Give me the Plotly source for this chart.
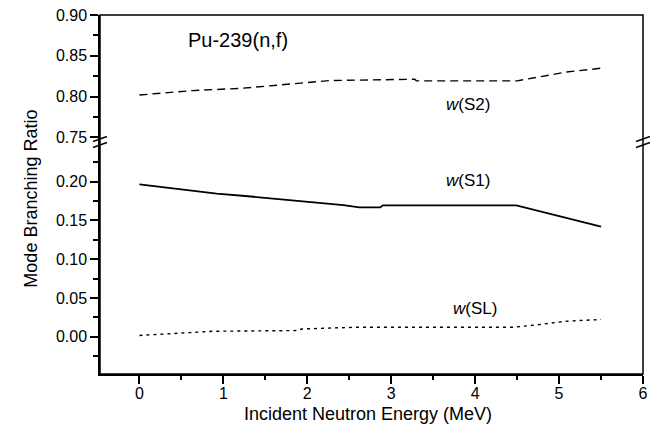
import plotly.graph_objects as go

# ---- data ----
s2_energy = [0.0, 0.63, 1.22, 1.51, 2.27, 3.28, 3.30, 4.50, 4.79, 5.08, 5.50]
s2_ratio = [0.802, 0.8074, 0.8102, 0.8127, 0.8197, 0.8213, 0.8193, 0.8193, 0.8246, 0.8300, 0.8348]

s1_energy = [0.0, 0.92, 1.26, 1.89, 2.43, 2.62, 2.87, 2.90, 4.49, 5.50]
s1_ratio = [0.1965, 0.1844, 0.1814, 0.1754, 0.1697, 0.1667, 0.1667, 0.1693, 0.1693, 0.1420]

sl_energy = [0.0, 0.88, 1.89, 1.93, 2.56, 4.45, 4.79, 5.08, 5.50]
sl_ratio = [0.0017, 0.0071, 0.0080, 0.0100, 0.0122, 0.0122, 0.0160, 0.0200, 0.0223]

x_ticks = [0, 1, 2, 3, 4, 5, 6]
x_minor = [-0.5, 0.5, 1.5, 2.5, 3.5, 4.5, 5.5]
y_low_ticks = [0.00, 0.05, 0.10, 0.15, 0.20]
y_low_minor = [-0.025, 0.025, 0.075, 0.125, 0.175, 0.225]
y_up_ticks = [0.75, 0.80, 0.85, 0.90]
y_up_minor = [0.775, 0.825, 0.875]

FONT = "Liberation Sans, Arial, sans-serif"

fig = go.Figure()
fig.add_trace(go.Scatter(x=s2_energy, y=s2_ratio, mode="lines", yaxis="y2",
                         line=dict(color="black", width=1.4, dash="8px,5px"),
                         showlegend=False))
fig.add_trace(go.Scatter(x=s1_energy, y=s1_ratio, mode="lines", yaxis="y",
                         line=dict(color="black", width=1.8), showlegend=False))
fig.add_trace(go.Scatter(x=sl_energy, y=sl_ratio, mode="lines", yaxis="y",
                         line=dict(color="black", width=1.4, dash="3px,4px"),
                         showlegend=False))

W, H = 652, 441
L, R, T, B = 100, 4, 15, 67
pw, ph = W - L - R, H - T - B
split_px = 142  # pixel row of the axis break
dsplit = (H - B - split_px) / ph

tickfont = dict(family=FONT, size=16, color="black")

fig.update_layout(
    width=W, height=H,
    margin=dict(l=L, r=R, t=T, b=B, pad=0),
    paper_bgcolor="white", plot_bgcolor="white",
    font=dict(family=FONT, color="black"),
    xaxis=dict(range=[-0.47, 6.0], anchor="y", showgrid=False, zeroline=False,
               showline=True, linecolor="black", linewidth=1.5,
               tickmode="array", tickvals=x_ticks, ticks="outside", ticklen=8,
               tickwidth=1.5, tickcolor="black", tickfont=tickfont,
               ticklabeloverflow="allow", ticklabelstandoff=-4,
               minor=dict(tickmode="array", tickvals=x_minor, ticks="outside",
                          ticklen=4, tickwidth=1.5, tickcolor="black")),
    yaxis=dict(domain=[0, dsplit], range=[-0.048, 0.251], anchor="x",
               showgrid=False, zeroline=False, showline=True, linecolor="black",
               linewidth=1.5, tickmode="array", tickvals=y_low_ticks,
               tickformat=".2f", ticks="outside", ticklen=8, tickwidth=1.5,
               tickcolor="black", tickfont=tickfont,
               minor=dict(tickmode="array", tickvals=y_low_minor, ticks="outside",
                          ticklen=5, tickwidth=1.5, tickcolor="black")),
    yaxis2=dict(domain=[dsplit, 1], range=[0.7444, 0.90], anchor="x",
                showgrid=False, zeroline=False, showline=True, linecolor="black",
                linewidth=1.5, tickmode="array", tickvals=y_up_ticks,
                tickformat=".2f", ticks="outside", ticklen=8, tickwidth=1.5,
                tickcolor="black", tickfont=tickfont,
                minor=dict(tickmode="array", tickvals=y_up_minor, ticks="outside",
                           ticklen=5, tickwidth=1.5, tickcolor="black")),
)

# frame (top and right sides)
fig.add_shape(type="rect", xref="paper", yref="paper", x0=0, x1=1, y0=0, y1=1,
              line=dict(color="black", width=1.5), fillcolor="rgba(0,0,0,0)")

# axis-break marks
def px_x(px):
    return (px - L) / pw

def px_y(py):
    return (H - B - py) / ph

for xc in (L, W - R):
    for dy in (-3, 3):
        yc = split_px + dy
        fig.add_shape(type="line", xref="paper", yref="paper",
                      x0=px_x(xc - 7), y0=px_y(yc + 2.5),
                      x1=px_x(xc + 7), y1=px_y(yc - 2.5),
                      line=dict(color="black", width=1.5))

# text labels
fig.add_annotation(x=1.18, y=0.869, xref="x", yref="y2", text="Pu-239(n,f)",
                   showarrow=False, font=dict(family=FONT, size=20, color="black"))
fig.add_annotation(x=3.92, y=0.790, xref="x", yref="y2", text="<i>w</i>(S2)",
                   showarrow=False, font=dict(family=FONT, size=17, color="black"))
fig.add_annotation(x=3.91, y=0.202, xref="x", yref="y", text="<i>w</i>(S1)",
                   showarrow=False, font=dict(family=FONT, size=17, color="black"))
fig.add_annotation(x=4.0, y=0.037, xref="x", yref="y", text="<i>w</i>(SL)",
                   showarrow=False, font=dict(family=FONT, size=17, color="black"))

# axis titles
fig.add_annotation(x=px_x(30), y=px_y(199), xref="paper", yref="paper",
                   xanchor="center", yanchor="middle",
                   text="Mode Branching Ratio", textangle=-90, showarrow=False,
                   font=dict(family=FONT, size=18, color="black"))
fig.add_annotation(x=px_x(370), y=px_y(414), xref="paper", yref="paper",
                   xanchor="center", yanchor="middle",
                   text="Incident Neutron Energy (MeV)", showarrow=False,
                   font=dict(family=FONT, size=18, color="black"))

fig.write_html("out.html")
